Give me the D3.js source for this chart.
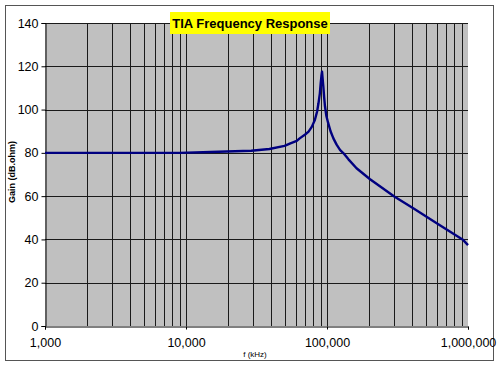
<!DOCTYPE html>
<html><head><meta charset="utf-8">
<script src="https://cdn.jsdelivr.net/npm/d3@7"></script>
<style>body{margin:0;background:#fff}svg{display:block}text{font-family:"Liberation Sans",Arial,sans-serif}</style>
</head><body><svg id="c" width="500" height="366"></svg>
<script>
const title = "TIA Frequency Response";
const yTitle = "Gain (dB.ohm)";
const xTitle = "f (kHz)";
const xTicks = [1000, 10000, 100000, 1000000];
const yTicks = [0, 20, 40, 60, 80, 100, 120, 140];
const freq = [1000, 5000, 9000, 17000, 29000, 39000, 50000, 55000, 61000, 64000, 70000, 74000, 78000, 82000, 85000, 87000, 89000, 90200, 91300, 92200, 93200, 94200, 95500, 96800, 99000, 102000, 106000, 111000, 117000, 124000, 131000, 142000, 162000, 202000, 300000, 409000, 600000, 926000, 1000000];
const gain = [80, 80, 80, 80.5, 81, 81.8, 83.2, 84.4, 85.5, 86.7, 88.5, 89.8, 92, 95.2, 99, 102.9, 107.5, 112.1, 115.5, 117.5, 114, 110.6, 105.5, 101.4, 97, 93.7, 90, 86.7, 83.8, 81.3, 79.8, 77, 72.9, 67.8, 59.8, 54.4, 47.5, 39.7, 37.4];

const svg = d3.select("#c");
const L = 45, R = 468, T = 23, B = 326;
const x = d3.scaleLog().domain([1000, 1000000]).range([L, R]);
const y = d3.scaleLinear().domain([0, 140]).range([B, T]);

// outer border
svg.append("rect").attr("x", 5.5).attr("y", 5.5).attr("width", 488).attr("height", 355)
  .attr("fill", "#fff").attr("stroke", "#555");

// plot area
svg.append("rect").attr("x", L).attr("y", T).attr("width", R - L).attr("height", B - T).attr("fill", "#c0c0c0");

// vertical gridlines (minor log)
const vgrid = [];
for (let d = 1000; d < 1000000; d *= 10) for (let m = 1; m <= 9; m++) vgrid.push(d * m);
svg.append("g").selectAll("line").data(vgrid.filter(v => v > 1000)).join("line")
  .attr("x1", d => Math.round(x(d)) + 0.5).attr("x2", d => Math.round(x(d)) + 0.5)
  .attr("y1", T).attr("y2", B).attr("stroke", "#1a1a1a").attr("stroke-width", 1);

// horizontal gridlines
svg.append("g").selectAll("line").data(yTicks.filter(v => v > 0)).join("line")
  .attr("x1", L).attr("x2", R)
  .attr("y1", d => Math.round(y(d)) + 0.5).attr("y2", d => Math.round(y(d)) + 0.5)
  .attr("stroke", "#1a1a1a").attr("stroke-width", 1);

// axes
const yAxis = d3.axisLeft(y).tickValues(yTicks).tickSize(4).tickPadding(3).tickFormat(d3.format("d"));
const gy = svg.append("g").attr("transform", `translate(${L + 0.5},0)`).call(yAxis);
gy.select(".domain").attr("stroke", "#000");
gy.selectAll(".tick line").attr("stroke", "#000");
gy.selectAll("text").attr("font-size", "12.5px").attr("fill", "#000");

const xAxis = d3.axisBottom(x).tickValues(xTicks).tickSize(3).tickPadding(9).tickFormat(d3.format(","));
const gx = svg.append("g").attr("transform", `translate(0,${B + 0.5})`).call(xAxis);
gx.select(".domain").attr("stroke", "#000");
gx.selectAll(".tick line").attr("stroke", "#000");
gx.selectAll("text").attr("font-size", "12.5px").attr("fill", "#000");

// data line
const line = d3.line().x((d, i) => x(freq[i])).y(d => y(d));
svg.append("path").datum(gain).attr("d", line).attr("fill", "none")
  .attr("stroke", "#000080").attr("stroke-width", 2.4).attr("stroke-linejoin", "round");

// title
svg.append("rect").attr("x", 170).attr("y", 12).attr("width", 160).attr("height", 22).attr("fill", "#ffff00");
svg.append("text").attr("x", 250).attr("y", 28).attr("text-anchor", "middle")
  .attr("font-size", "13px").attr("font-weight", "bold").attr("fill", "#000").text(title);

// axis titles
svg.append("text").attr("transform", "translate(15,172) rotate(-90)").attr("text-anchor", "middle")
  .attr("font-size", "9px").attr("font-weight", "bold").attr("fill", "#000").text(yTitle);
svg.append("text").attr("x", 255).attr("y", 357).attr("text-anchor", "middle")
  .attr("font-size", "8px").attr("fill", "#000").text(xTitle);
</script></body></html>
